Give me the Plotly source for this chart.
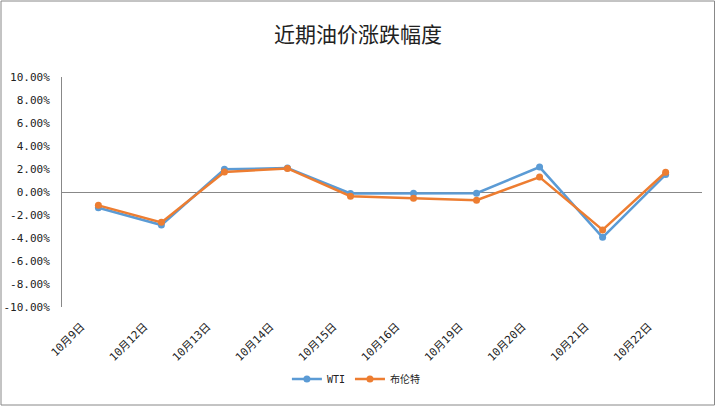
import plotly.graph_objects as go

categories = ["10月9日", "10月12日", "10月13日", "10月14日", "10月15日",
              "10月16日", "10月19日", "10月20日", "10月21日", "10月22日"]
wti = [-1.37, -2.87, 1.97, 2.08, -0.12, -0.10, -0.10, 2.17, -3.94, 1.52]
brent = [-1.16, -2.64, 1.74, 2.05, -0.37, -0.55, -0.72, 1.30, -3.30, 1.72]
y_ticks = [-10, -8, -6, -4, -2, 0, 2, 4, 6, 8, 10]

mono = "DejaVu Sans Mono, Noto Sans CJK SC"

fig = go.Figure()
fig.add_trace(go.Scatter(x=categories, y=wti, name="WTI", mode="lines+markers",
                         line=dict(color="#5B9BD5", width=2.5),
                         marker=dict(size=7, color="#5B9BD5")))
fig.add_trace(go.Scatter(x=categories, y=brent, name="布伦特", mode="lines+markers",
                         line=dict(color="#ED7D31", width=2.5),
                         marker=dict(size=7, color="#ED7D31")))

fig.update_layout(
    width=716, height=406,
    margin=dict(l=62, r=14, t=77, b=99, autoexpand=False),
    paper_bgcolor="white", plot_bgcolor="white",
    title=dict(text="近期油价涨跌幅度", x=0.5, xanchor="center", y=1 - 35/406, yanchor="middle",
               font=dict(family="Noto Sans CJK SC", size=21, color="#222")),
    xaxis=dict(type="category", showgrid=False, showline=False, zeroline=False,
               automargin=False,
               tickangle=-45, ticks="", ticklabelshift=-17, ticklabelstandoff=10,
               tickfont=dict(family=mono, size=11, color="#222")),
    yaxis=dict(range=[-10, 10], tickvals=y_ticks, automargin=False,
               ticktext=[f"{v:.2f}%" for v in y_ticks],
               showgrid=False, showline=True, linecolor="#888888", linewidth=1,
               zeroline=True, zerolinecolor="#888888", zerolinewidth=1,
               ticks="", ticklabelstandoff=9,
               tickfont=dict(family=mono, size=11, color="#222")),
    legend=dict(orientation="h", x=0.46, xanchor="center", y=-0.313, yanchor="middle",
                font=dict(family=mono, size=10, color="#222"), itemwidth=30),
    showlegend=True,
)
fig.add_shape(type="rect", xref="paper", yref="paper",
              x0=(1 - 62)/640, x1=(714.5 - 62)/640, y0=(307 - 405)/230, y1=(307 - 1)/230,
              line=dict(color="#888888", width=1), layer="below")

fig.write_html("out.html")
